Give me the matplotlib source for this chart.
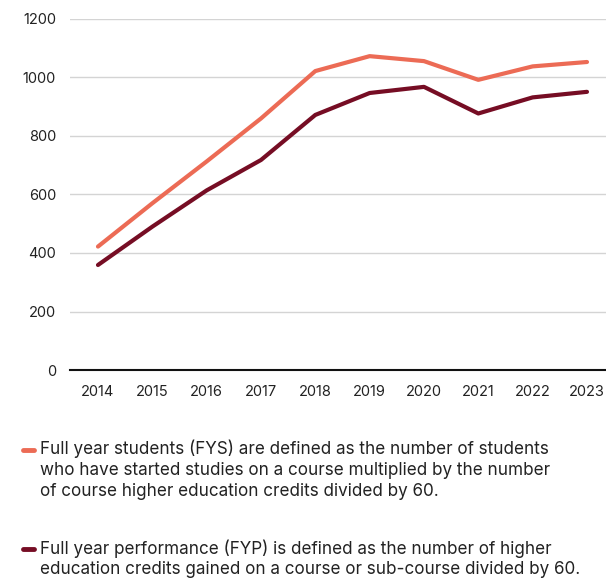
import matplotlib.pyplot as plt
from matplotlib.lines import Line2D

years = [2014, 2015, 2016, 2017, 2018, 2019, 2020, 2021, 2022, 2023]
fys = [422, 570, 713, 860, 1022, 1073, 1056, 992, 1038, 1053]
fyp = [359, 490, 614, 718, 872, 947, 968, 877, 932, 951]

fys_note = ("Full year students (FYS) are defined as the number of students\n"
            "who have started studies on a course multiplied by the number\n"
            "of course higher education credits divided by 60.")
fyp_note = ("Full year performance (FYP) is defined as the number of higher\n"
            "education credits gained on a course or sub-course divided by 60.")

FYS_COLOR = '#EC6B55'
FYP_COLOR = '#760D24'

plt.rcParams['font.family'] = ['Inter', 'DejaVu Sans']

fig = plt.figure(figsize=(6.06, 5.81), dpi=100)
ax = fig.add_axes([70 / 606, 1 - 370 / 581, 536 / 606, 351 / 581])

ax.plot(years, fys, color=FYS_COLOR, lw=3, solid_capstyle='round')
ax.plot(years, fyp, color=FYP_COLOR, lw=3, solid_capstyle='round')

ax.set_ylim(0, 1200)
ax.set_xlim(2013.485, 2023.35)
ax.set_yticks(range(0, 1201, 200))
ax.set_xticks(years)
ax.tick_params(length=0, labelsize=10.5, colors='#222222', pad=11)
ax.tick_params(axis='y', pad=10)
ax.grid(axis='y', color='#d4d4d4', lw=1)
ax.set_axisbelow(True)
for s in ['top', 'right', 'left']:
    ax.spines[s].set_visible(False)
ax.spines['bottom'].set_color('#111111')
ax.spines['bottom'].set_linewidth(1.5)

# notes below the chart
notes = [(fys_note, FYS_COLOR, 452), (fyp_note, FYP_COLOR, 551)]
for text, color, ytop in notes:
    fig.add_artist(Line2D([23 / 606, 34 / 606], [1 - (ytop - 2) / 581] * 2,
                          color=color, lw=3.5, solid_capstyle='round'))
    fig.text(40 / 606, 1 - (ytop - 12) / 581, text, fontsize=12.3,
             va='top', ha='left', color='#222222', linespacing=1.3)

fig.savefig('out.png', dpi=100)
